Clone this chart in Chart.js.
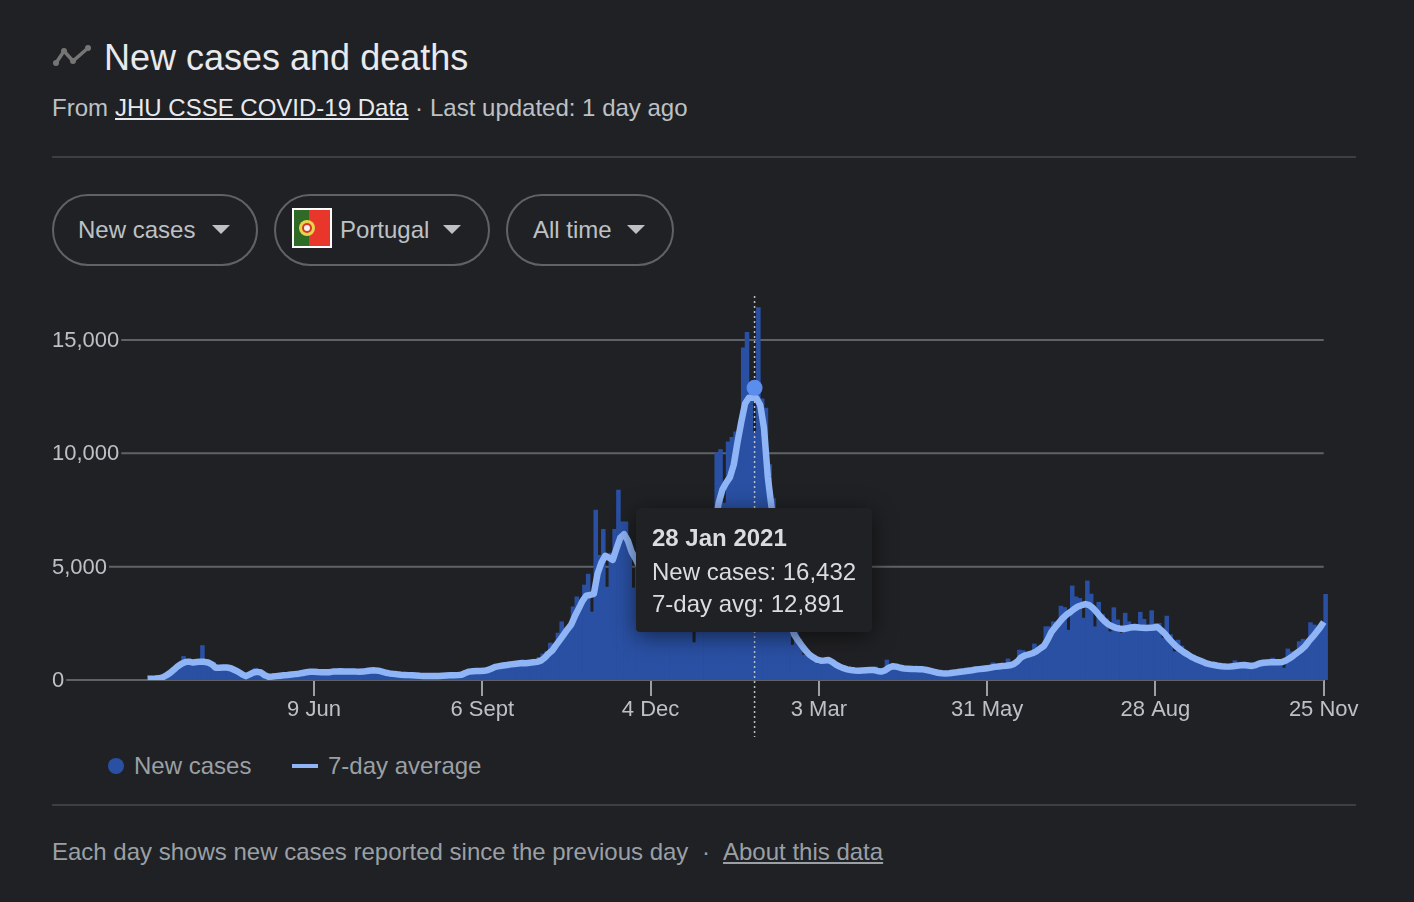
<!DOCTYPE html>
<html>
<head>
<meta charset="utf-8">
<title>New cases and deaths</title>
<script src="https://cdn.jsdelivr.net/npm/chart.js@4/dist/chart.umd.min.js"></script>
<style>
  html, body { margin: 0; padding: 0; background: #202124; }
  body { width: 1414px; height: 902px; position: relative; overflow: hidden; font-family: "Liberation Sans", Arial, sans-serif; font-size: 24px; color: #bdc1c6; }
  .t { position: absolute; white-space: nowrap; line-height: 30px; }
  .rule { position: absolute; left: 52px; width: 1304px; height: 2px; background: #3c4043; }
  .pill { position: absolute; top: 194px; height: 68px; border: 2px solid #5f6368; border-radius: 36px; }
  .caret { position: absolute; top: 225px; width: 0; height: 0; border-left: 9px solid transparent; border-right: 9px solid transparent; border-top: 9px solid #bdc1c6; }
  #chartWrap { position: absolute; left: 0; top: 280px; width: 1414px; height: 470px; }
  #tip { position: absolute; left: 636px; top: 508px; width: 236px; height: 124px; background: #202124; border-radius: 4px; box-shadow: 0 4px 22px rgba(0,0,0,0.55); color: #dadce0; }
  #tip div { position: absolute; left: 16px; white-space: nowrap; line-height: 30px; }
</style>
</head>
<body>
<svg style="position:absolute;left:50px;top:42px" width="44" height="28" viewBox="0 0 44 28">
  <polyline points="6,21 14,9 23,19 38,6" fill="none" stroke="#757575" stroke-width="3.5"/>
  <circle cx="6" cy="21" r="3" fill="#757575"/><circle cx="14" cy="9" r="3" fill="#757575"/>
  <circle cx="23" cy="19" r="3" fill="#757575"/><circle cx="38" cy="6" r="3" fill="#757575"/>
</svg>
<div class="t" style="left:104px;top:38px;font-size:36px;line-height:40px;color:#e8eaed">New cases and deaths</div>
<div class="t" style="left:52px;top:93px">From</div>
<div class="t" style="left:115px;top:93px;color:#e8eaed;text-decoration:underline">JHU CSSE COVID-19 Data</div>
<div class="t" style="left:415px;top:93px">·</div>
<div class="t" style="left:430px;top:93px">Last updated: 1 day ago</div>
<div class="rule" style="top:156px"></div>

<div class="pill" style="left:52px;width:202px"></div>
<div class="t" style="left:78px;top:215px">New cases</div>
<div class="caret" style="left:212px"></div>
<div class="pill" style="left:274px;width:212px"></div>
<svg style="position:absolute;left:292px;top:208px" width="40" height="40" viewBox="0 0 40 40">
  <rect width="40" height="40" fill="#fff"/>
  <rect x="2" y="2" width="15" height="36" fill="#2f6b26"/>
  <rect x="17" y="2" width="21" height="36" fill="#e9362a"/>
  <circle cx="15" cy="20" r="8" fill="#e8d44a"/><circle cx="15" cy="20" r="5" fill="#d9362a"/><circle cx="15" cy="20" r="3" fill="#f1f1f1"/>
</svg>
<div class="t" style="left:340px;top:215px">Portugal</div>
<div class="caret" style="left:443px"></div>
<div class="pill" style="left:506px;width:164px"></div>
<div class="t" style="left:533px;top:215px">All time</div>
<div class="caret" style="left:627px"></div>

<div id="chartWrap"><canvas id="casesChart" width="1414" height="470"></canvas></div>

<div id="tip">
  <div style="top:15px;font-weight:bold">28 Jan 2021</div>
  <div style="top:49px">New cases: 16,432</div>
  <div style="top:81px">7-day avg: 12,891</div>
</div>

<div style="position:absolute;left:108px;top:758px;width:16px;height:16px;border-radius:50%;background:#2a50a3"></div>
<div class="t" style="left:134px;top:751px;color:#9aa0a6">New cases</div>
<div style="position:absolute;left:292px;top:764px;width:26px;height:4px;background:#8fb5f7"></div>
<div class="t" style="left:328px;top:751px;color:#9aa0a6">7-day average</div>
<div class="rule" style="top:804px"></div>
<div class="t" style="left:52px;top:837px;color:#9aa0a6">Each day shows new cases reported since the previous day</div>
<div class="t" style="left:702px;top:837px;color:#9aa0a6">·</div>
<div class="t" style="left:723px;top:837px;color:#9aa0a6;text-decoration:underline">About this data</div>

<script>
/* days are counted from 9 Jun 2020, one sample every second day */
const firstDay = -88;
const highlightDay = 233;
const highlightAvg = 12891;
const tickDays = [0, 89, 178, 267, 356, 445, 534];
const tickLabels = ['9 Jun', '6 Sept', '4 Dec', '3 Mar', '31 May', '28 Aug', '25 Nov'];
const yTicks = [0, 5000, 10000, 15000];

const newCases = [
  40,60,70,110,170,240,360,500,720,1040,
  760,860,720,720,1520,810,700,780,500,600,
  560,590,480,520,360,240,200,300,520,440,
  370,200,170,150,180,190,220,240,230,270,
  300,320,340,380,360,340,350,330,360,380,
  390,400,370,390,380,360,380,380,400,430,
  430,420,360,310,290,270,240,240,220,220,
  200,190,190,180,170,180,170,190,190,210,
  200,220,210,260,340,390,400,410,420,430,
  480,620,630,640,700,680,760,740,800,780,
  820,830,920,1000,1150,1250,1630,1250,2070,2570,
  2100,2300,3230,3670,3200,4190,4670,3000,7500,5500,
  6650,4100,5600,6650,8380,6980,6980,5600,4060,5300,
  4800,4600,5000,4700,4300,5000,4400,3900,4500,3800,
  3900,3600,3400,3700,1650,3300,3500,4000,4900,6000,
  10020,10170,7800,10510,10700,10950,10600,14650,15340,12900,
  10900,16432,12400,12000,9500,8000,6200,4800,4300,3400,
  1540,2100,1800,1100,1300,1100,950,700,880,860,
  890,780,660,600,500,460,450,420,400,440,
  430,460,580,290,250,880,580,620,600,530,
  520,500,500,470,480,460,440,400,350,320,
  290,280,310,320,350,380,380,430,430,480,
  490,520,520,760,560,640,700,930,700,640,
  1320,1300,1020,1100,1590,1400,1540,2350,2350,2570,
  2300,3260,3200,2200,4150,3670,3600,2730,4370,3790,
  2350,3430,2900,2700,2130,3190,2650,2070,2950,2570,
  2400,2300,2990,2680,2250,3060,2500,2500,1850,2820,
  2000,1250,1760,1500,1250,1000,1100,900,900,780,
  760,680,700,600,640,600,600,850,640,680,
  700,640,580,680,800,860,800,970,760,800,
  530,1370,1250,1100,1690,1800,1500,2530,2430,2200,
  2400,3780
];

const avgCases = [
  50,60,65,75,120,210,320,460,610,720,
  790,810,770,790,810,800,770,690,540,540,
  550,550,520,440,360,250,170,250,330,360,
  330,210,140,150,170,190,210,220,240,260,
  280,310,340,360,365,350,340,340,345,370,
  380,385,380,375,380,370,365,370,395,420,
  425,410,370,320,290,270,250,235,225,215,
  205,195,185,180,175,175,175,180,190,200,
  205,210,215,230,310,370,385,395,400,405,
  440,510,580,610,640,660,690,710,730,750,
  740,760,780,800,850,980,1160,1300,1540,1760,
  1990,2230,2440,2820,3150,3490,3720,3750,3800,4700,
  5180,5480,5400,5300,5800,6280,6430,6150,5650,5350,
  5000,4800,4650,4500,4400,4300,4200,4050,3900,3800,
  3700,3600,3500,3400,3300,3200,3400,3900,4600,5600,
  6800,7800,8400,8700,8950,9500,10500,11400,12200,12450,
  12450,12430,12130,11100,8950,7600,6300,5100,4100,3300,
  2500,2000,1750,1520,1300,1120,1000,900,850,860,
  880,800,680,590,520,470,440,420,410,420,
  430,440,440,400,370,420,540,610,590,540,
  510,500,490,480,475,470,440,400,360,320,
  295,290,300,320,340,365,385,410,430,460,
  480,500,515,545,580,600,620,630,650,700,
  820,1000,1090,1130,1180,1260,1390,1500,1780,2120,
  2330,2530,2730,2880,3000,3130,3240,3300,3350,3300,
  3170,2980,2780,2600,2460,2370,2300,2270,2250,2280,
  2320,2340,2320,2300,2290,2300,2320,2340,2200,2040,
  1830,1650,1480,1350,1230,1130,1020,940,870,800,
  730,690,660,630,610,595,590,610,630,650,
  660,640,620,660,730,760,770,780,780,780,
  790,860,960,1080,1210,1330,1480,1700,1890,2100,
  2310,2560
];

const FONT = '"Liberation Sans", Arial, sans-serif';

// gridlines start right after their label, so they are drawn here and not by the scale
const yGridPlugin = {
  id: 'yGrid',
  beforeDatasetsDraw(chart) {
    const { ctx, scales } = chart;
    ctx.save();
    ctx.font = '22px ' + FONT;
    ctx.strokeStyle = '#5f6368';
    ctx.lineWidth = 2;
    yTicks.forEach((v) => {
      const y = scales.y.getPixelForValue(v);
      ctx.beginPath();
      ctx.moveTo(chart.chartArea.left + ctx.measureText(v.toLocaleString('en-US')).width + 2, y);
      ctx.lineTo(scales.x.getPixelForValue(tickDays[tickDays.length - 1]), y);
      ctx.stroke();
    });
    ctx.restore();
  },
  // dotted hover line, above the bars
  afterDatasetDraw(chart, args) {
    if (args.index !== 0) {
      return;
    }
    const { ctx, scales } = chart;
    const x = scales.x.getPixelForValue(highlightDay);
    ctx.save();
    ctx.strokeStyle = '#bdc1c6';
    ctx.lineWidth = 1.5;
    ctx.setLineDash([2, 3]);
    ctx.beginPath();
    ctx.moveTo(x, chart.chartArea.top);
    ctx.lineTo(x, chart.chartArea.bottom + 57);
    ctx.stroke();
    ctx.restore();
  },
};

new Chart(document.getElementById('casesChart').getContext('2d'), {
  type: 'bar',
  data: {
    datasets: [
      {
        label: 'New cases',
        order: 3,
        data: newCases.map((v, i) => ({ x: firstDay + 2 * i + 1, y: v })),
        backgroundColor: '#2a50a3',
        barThickness: 3.9,
        grouped: false,
      },
      {
        type: 'line',
        label: '7-day average',
        order: 2,
        data: avgCases.map((v, i) => ({ x: firstDay + 2 * i, y: v })),
        borderColor: '#8fb5f7',
        borderWidth: 6.5,
        pointRadius: 0,
        tension: 0,
        borderJoinStyle: 'round',
      },
      {
        type: 'line',
        label: 'Highlight',
        order: 1,
        data: [{ x: highlightDay, y: highlightAvg }],
        pointRadius: 8,
        pointBackgroundColor: '#5b8def',
        pointBorderWidth: 0,
        showLine: false,
      },
    ],
  },
  options: {
    responsive: false,
    animation: false,
    events: [],
    layout: { padding: { left: 52, right: 74, top: 16, bottom: 0 } },
    plugins: { legend: { display: false }, tooltip: { enabled: false } },
    scales: {
      x: {
        type: 'linear',
        offset: false,
        min: -138.55,
        max: 542.6,
        border: { display: false },
        grid: { offset: false, drawOnChartArea: false, drawTicks: true, tickLength: 16, color: '#9aa0a6', lineWidth: 2 },
        afterBuildTicks(scale) {
          scale.ticks = tickDays.map((d) => ({ value: d }));
        },
        afterFit(scale) {
          scale.height = 70;
          scale.paddingLeft = 0;
          scale.paddingRight = 0;
        },
        ticks: {
          autoSkip: false,
          maxRotation: 0,
          padding: 1,
          color: '#bdc1c6',
          font: { family: FONT, size: 22 },
          callback: (v) => tickLabels[tickDays.indexOf(v)],
        },
      },
      y: {
        min: 0,
        max: 16940,
        border: { display: false },
        grid: { display: false },
        afterBuildTicks(scale) {
          scale.ticks = yTicks.map((v) => ({ value: v }));
        },
        afterFit(scale) {
          scale.width = 0;
        },
        ticks: {
          mirror: true,
          padding: 0,
          labelOffset: 1,
          color: '#bdc1c6',
          font: { family: FONT, size: 22 },
          callback: (v) => v.toLocaleString('en-US'),
        },
      },
    },
  },
  plugins: [yGridPlugin],
});
</script>
</body>
</html>
